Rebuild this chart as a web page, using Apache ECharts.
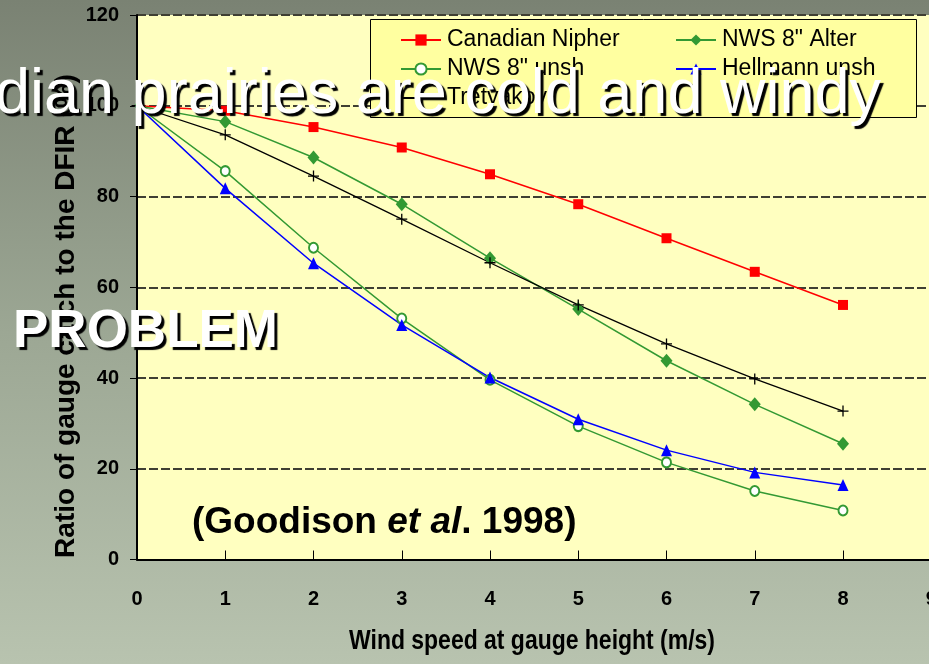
<!DOCTYPE html>
<html>
<head>
<meta charset="utf-8">
<script src="https://cdn.jsdelivr.net/npm/echarts@6/dist/echarts.min.js"></script>
<style>
  html, body { margin: 0; padding: 0; }
  #chart { width: 929px; height: 664px; }
</style>
</head>
<body>
<div id="chart"></div>
<script>
// Wind speed at gauge height (m/s)
const windSpeed = [0, 1, 2, 3, 4, 5, 6, 7, 8];

// Ratio of gauge catch to the DFIR (%)
const canadianNipher = [100, 98.9, 95.3, 90.8, 84.9, 78.3, 70.8, 63.4, 56.1];
const nwsAlter       = [100, 96.5, 88.6, 78.3, 66.4, 55.2, 43.8, 34.2, 25.5];
const nwsUnsh        = [100, 85.6, 68.7, 53.1, 39.6, 29.4, 21.4, 15.1, 10.8];
const hellmannUnsh   = [100, 81.8, 65.3, 51.7, 40.1, 30.9, 24.1, 19.2, 16.4];
const tretyakov      = [100, 93.6, 84.5, 75.0, 65.4, 56.1, 47.5, 39.8, 32.7];

const xTicks = [0, 1, 2, 3, 4, 5, 6, 7, 8, 9];
const yTicks = [0, 20, 40, 60, 80, 100, 120];

const SANS = "'Liberation Sans', Arial, sans-serif";
// Condensed look: regular sans squeezed horizontally
const NARROW_SCALE = 0.82;

const PLUS = 'path://M0,5L10,5M5,0L5,10';

// the common starting point at 0 m/s is drawn with a tiny marker
function pairs(ys, firstSize) {
  return windSpeed.map((x, i) => {
    const item = { value: [x, ys[i]] };
    if (i === 0 && firstSize) item.symbolSize = firstSize;
    return item;
  });
}

function lineSeries(name, ys, color, symbol, size, extra, firstSize) {
  return Object.assign({
    name: name,
    type: 'line',
    data: pairs(ys, firstSize),
    symbol: symbol,
    symbolSize: size,
    showAllSymbol: true,
    clip: false,
    lineStyle: { color: color, width: 1.5 },
    itemStyle: { color: color },
    emphasis: { disabled: true },
    z: 3
  }, extra || {});
}

const chart = echarts.init(document.getElementById('chart'), null, { renderer: 'canvas' });

const legendText = { fontFamily: SANS, fontSize: 23, color: '#000', lineHeight: 28, padding: [0, 0, 0, 1] };

const shadow = {
  textShadowColor: '#000',
  textShadowOffsetX: 3,
  textShadowOffsetY: 3,
  textShadowBlur: 1
};

const option = {
  animation: false,
  backgroundColor: new echarts.graphic.LinearGradient(0, 0, 0, 1, [
    { offset: 0, color: '#7a8273' },
    { offset: 0.5, color: '#9ca794' },
    { offset: 1, color: '#b8c3af' }
  ]),
  grid: {
    left: 137,
    top: 15,
    width: 794.25,
    height: 544.5,
    outerBoundsMode: 'none',
    containLabel: false,
    show: true,
    backgroundColor: '#ffffc0',
    borderWidth: 0
  },
  xAxis: {
    type: 'value',
    min: xTicks[0],
    max: xTicks[xTicks.length - 1],
    interval: 1,
    axisLine: { show: true, lineStyle: { color: '#000', width: 2 } },
    axisTick: { show: true, inside: true, length: 9, lineStyle: { color: '#000', width: 1 } },
    axisLabel: { margin: 30, fontFamily: SANS, fontWeight: 'bold', fontSize: 20, color: '#000' },
    splitLine: { show: false }
  },
  yAxis: {
    type: 'value',
    min: yTicks[0],
    max: yTicks[yTicks.length - 1],
    interval: 20,
    axisLine: { show: true, lineStyle: { color: '#000', width: 2 } },
    axisTick: { show: true, inside: false, length: 7, lineStyle: { color: '#000', width: 1 } },
    axisLabel: { margin: 18, fontFamily: SANS, fontWeight: 'bold', fontSize: 20, color: '#000' },
    splitLine: { show: true, lineStyle: { color: '#3f3f33', width: 2, type: [9, 3] } }
  },
  legend: [
    {
      data: ['Canadian Nipher', 'NWS 8" unsh', 'Tretyakov'],
      orient: 'vertical',
      left: 400,
      top: 26,
      itemWidth: 40,
      itemHeight: 14,
      itemGap: 1,
      padding: 0,
      z: 5,
      selectedMode: false,
      textStyle: legendText
    },
    {
      data: ['NWS 8" Alter', 'Hellmann unsh'],
      orient: 'vertical',
      left: 675,
      top: 26,
      itemWidth: 40,
      itemHeight: 14,
      itemGap: 1,
      padding: 0,
      z: 5,
      selectedMode: false,
      textStyle: legendText
    }
  ],
  series: [
    lineSeries('Canadian Nipher', canadianNipher, '#ff0000', 'rect', 10, null, 3),
    lineSeries('NWS 8" Alter', nwsAlter, '#339933', 'diamond', [12, 14], null, 3),
    lineSeries('NWS 8" unsh', nwsUnsh, '#339933', 'emptyCircle', [9, 10],
      { itemStyle: { color: '#339933', borderWidth: 1.2 } }, 3),
    lineSeries('Hellmann unsh', hellmannUnsh, '#0000ff', 'triangle', [11, 12], null, 3),
    lineSeries('Tretyakov', tretyakov, '#000000', PLUS, 11,
      { lineStyle: { color: '#000', width: 1.3 },
        itemStyle: { color: 'rgba(0,0,0,0)', borderColor: '#000', borderWidth: 1.3 } })
  ],
  graphic: [
    {
      type: 'rect',
      shape: { x: 370.5, y: 19.5, width: 546, height: 98 },
      style: { fill: '#ffffa0', stroke: '#000', lineWidth: 1 },
      z: 4
    },
    {
      // x-axis title
      type: 'text',
      x: 532,
      y: 641,
      scaleX: NARROW_SCALE,
      z: 6,
      style: {
        text: 'Wind speed at gauge height (m/s)',
        font: 'bold 28px ' + SANS,
        fill: '#000',
        align: 'center',
        verticalAlign: 'middle'
      }
    },
    {
      // y-axis title
      type: 'text',
      rotation: Math.PI / 2,
      x: 66,
      y: 316,
      z: 6,
      style: {
        text: 'Ratio of gauge catch to the DFIR (%)',
        font: 'bold 28px ' + SANS,
        fill: '#000',
        align: 'center',
        verticalAlign: 'middle'
      }
    },
    {
      type: 'text',
      x: 192,
      y: 523,
      z: 6,
      style: {
        rich: {
          i: { font: 'italic bold 37px ' + SANS, fill: '#000' }
        },
        text: '(Goodison {i|et al}. 1998)',
        font: 'bold 37px ' + SANS,
        fill: '#000',
        align: 'left',
        verticalAlign: 'middle'
      }
    },
    {
      type: 'text',
      x: 13,
      y: 332,
      z: 20,
      style: Object.assign({
        text: 'PROBLEM',
        font: 'bold 53px ' + SANS,
        fill: '#ffffff',
        align: 'left',
        verticalAlign: 'middle'
      }, shadow)
    },
    {
      type: 'text',
      x: 881,
      y: 96,
      z: 20,
      style: Object.assign({
        text: 'Canadian prairies are cold and windy',
        font: '63px ' + SANS,
        fill: '#ffffff',
        align: 'right',
        verticalAlign: 'middle'
      }, shadow)
    }
  ]
};

chart.setOption(option);
</script>
</body>
</html>
